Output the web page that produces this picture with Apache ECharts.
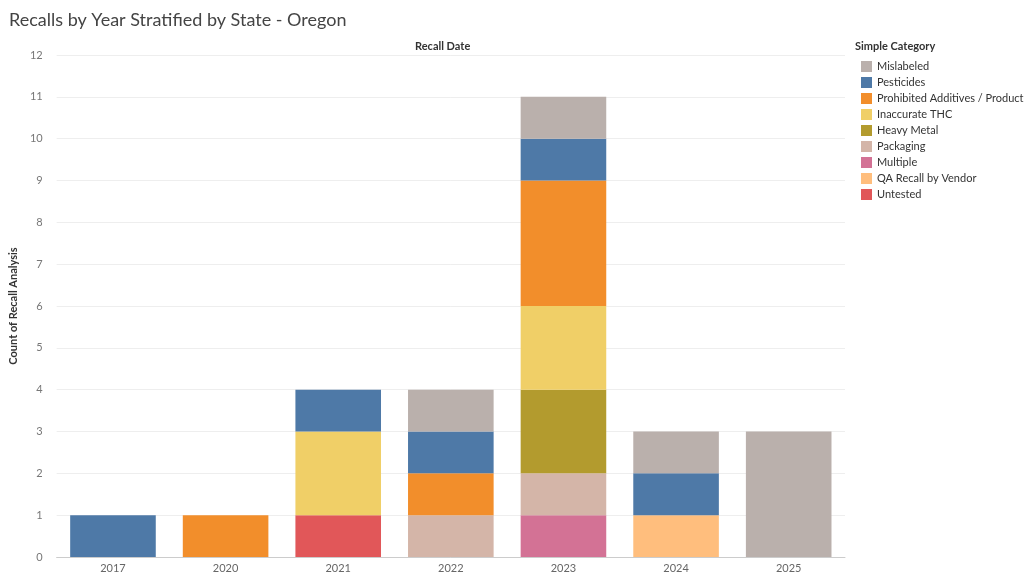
<!DOCTYPE html>
<html><head><meta charset="utf-8">
<script src="https://cdn.jsdelivr.net/npm/echarts@6/dist/echarts.min.js"></script>
<style>html,body{margin:0;padding:0;background:#fff}#c{width:1024px;height:577px}</style>
</head><body><div id="c"></div>
<script>
var years = ['2017', '2020', '2021', '2022', '2023', '2024', '2025'];
// stacked bottom to top
var untested   = [0, 0, 1, 0, 0, 0, 0];
var qaRecall   = [0, 0, 0, 0, 0, 1, 0];
var multiple   = [0, 0, 0, 0, 1, 0, 0];
var packaging  = [0, 0, 0, 1, 1, 0, 0];
var heavyMetal = [0, 0, 0, 0, 2, 0, 0];
var inaccurate = [0, 0, 2, 0, 2, 0, 0];
var prohibited = [0, 1, 0, 1, 3, 0, 0];
var pesticides = [1, 0, 1, 1, 1, 1, 0];
var mislabeled = [0, 0, 0, 1, 1, 1, 3];

var cats = [
  ['Untested', untested, '#e15759'],
  ['QA Recall by Vendor', qaRecall, '#ffbe7d'],
  ['Multiple', multiple, '#d37295'],
  ['Packaging', packaging, '#d4b5a8'],
  ['Heavy Metal', heavyMetal, '#b39b2e'],
  ['Inaccurate THC', inaccurate, '#f0cf67'],
  ['Prohibited Additives / Product', prohibited, '#f28e2b'],
  ['Pesticides', pesticides, '#4e79a7'],
  ['Mislabeled', mislabeled, '#bab0ac']
];

var chart = echarts.init(document.getElementById('c'));
chart.setOption({
  animation: false,
  textStyle: { fontFamily: 'Lato, sans-serif' },
  title: { text: 'Recalls by Year Stratified by State - Oregon', left: 4, top: 6,
    textStyle: { fontSize: 18, fontWeight: 'normal', color: '#444' } },
  legend: {
    data: cats.map(function (c) { return c[0]; }).reverse(),
    orient: 'vertical', left: 856, top: 56, itemGap: 5,
    itemWidth: 11, itemHeight: 11, icon: 'rect',
    textStyle: { fontSize: 11, color: '#333' }
  },
  graphic: [
    { type: 'text', left: 855, top: 41, style: { text: 'Simple Category', font: 'bold 11px Lato, sans-serif', fill: '#333' } },
    { type: 'text', left: 415, top: 41, style: { text: 'Recall Date', font: 'bold 11px Lato, sans-serif', fill: '#333' } }
  ],
  grid: { left: 40, right: 179, top: 55, bottom: 20 },
  xAxis: { type: 'category', data: years,
    axisLine: { lineStyle: { color: '#ccc' } }, axisTick: { show: false },
    axisLabel: { color: '#666', fontSize: 11, margin: 6 } },
  yAxis: { type: 'value', min: 0, max: 12, interval: 1,
    name: 'Count of Recall Analysis', nameLocation: 'middle', nameGap: 30,
    nameTextStyle: { fontSize: 11, color: '#333', fontWeight: 'bold' },
    axisLabel: { color: '#777', fontSize: 11, margin: 14 },
    splitLine: { lineStyle: { color: '#eee' } } },
  series: cats.map(function (c) {
    return { name: c[0], type: 'bar', stack: 'all', data: c[1].map(function (v) { return v || null; }),
      barWidth: '76%', itemStyle: { color: c[2] } };
  })
});
</script></body></html>
